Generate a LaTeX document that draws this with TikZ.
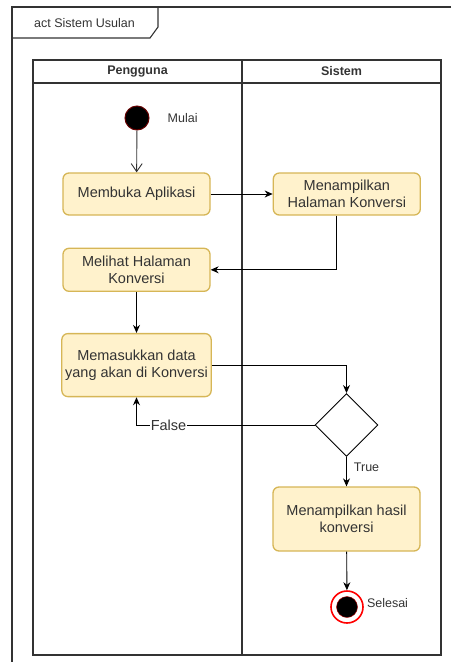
\documentclass[tikz,border=0pt]{standalone}
\usepackage{fontspec}
\setmainfont{Liberation Sans}
\usepackage{tikz}
\usetikzlibrary{positioning,shapes.geometric,arrows.meta}
\definecolor{actfill}{HTML}{FFF2CC}
\definecolor{actline}{HTML}{D6B656}
\definecolor{teks}{HTML}{333333}

\begin{document}
\begin{tikzpicture}[x=1pt,y=-1pt]
\tikzset{
    block/.style={rectangle, rounded corners=6pt, draw=actline, line width=1.3pt, fill=actfill, minimum width=147pt, align=center, text=teks, font=\fontsize{14.5}{17}\selectfont},
    arrow/.style={-{Stealth[length=8pt,width=7pt]}, line width=0.9pt},
    lbl/.style={font=\fontsize{12.5}{15}\selectfont, text=teks, inner sep=1pt},
    lane/.style={draw=teks, line width=1.1pt}
}
\useasboundingbox (0,0) rectangle (451,662);
% frame
\draw[lane] (451,7) -- (12,7) -- (12,662);
\draw[lane] (12,38) -- (150,38) -- (158,27) -- (158,7);
\node[lbl] (judul) at (84.5,23) {act Sistem Usulan};
% swimlane
\draw[lane] (33,60) rectangle (441,655);
\draw[lane] (33,83) -- (441,83);
\draw[lane] (242,60) -- (242,655);
\node[lbl, font=\bfseries\fontsize{12.5}{15}\selectfont] (pengguna) at (137.5,71.5) {Pengguna};
\node[lbl, font=\bfseries\fontsize{12.5}{15}\selectfont] (sistem) at (341.5,71.5) {Sistem};

\node[circle, fill=black, draw=red!40!black, line width=1pt, minimum size=24pt, inner sep=0pt] (mulai) at (137,118) {};
\node[lbl, right=17pt of mulai] (tmulai) {Mulai};
\node[block, minimum height=42pt] (buka) at (136.5,194) {Membuka Aplikasi};
\node[block, minimum height=42pt, right=62pt of buka] (tampil) {Menampilkan\\Halaman Konversi};
\node[block, minimum height=43pt, below=32pt of buka] (lihat) {Melihat Halaman\\Konversi};
\node[block, minimum height=63pt, below=41pt of lihat] (masuk) {Memasukkan data\\yang akan di Konversi};
\node[diamond, draw=black, line width=0.9pt, fill=white, minimum size=63pt, inner sep=0pt] (cek) at (346.5,425) {};
\node[block, minimum height=64pt] (hasil) at (346.5,519) {Menampilkan hasil\\konversi};
\node[circle, draw=red, line width=1.6pt, fill=white, minimum size=32pt, inner sep=0pt] (selesai) at (347,607) {};
\node[circle, fill=black, draw=red!70!black, minimum size=21pt, inner sep=0pt] (selesaiin) at (selesai) {};
\node[lbl, right=2pt of selesai, yshift=4pt] (tselesai) {Selesai};

\draw[-{Straight Barb[length=8pt,width=11pt]}, draw=teks, line width=0.9pt] (mulai) -- (buka);
\draw[arrow] (buka) -- (tampil);
\draw[arrow] ([xshift=-10pt]tampil.south) |- (lihat.east);
\draw[arrow] (lihat) -- (masuk);
\draw[arrow] (masuk.east) -| (cek.north);
\draw[arrow] (cek.west) -| node[pos=0.41, fill=white, font=\fontsize{14.5}{17}\selectfont, text=teks, inner sep=1pt] (tfalse) {False} (masuk.south);
\draw[arrow] (cek.south) -- node[lbl, right=6pt, pos=0.35] (ttrue) {True} (hasil.north);
\draw[arrow] (hasil) -- (selesai);
\end{tikzpicture}
\end{document}
